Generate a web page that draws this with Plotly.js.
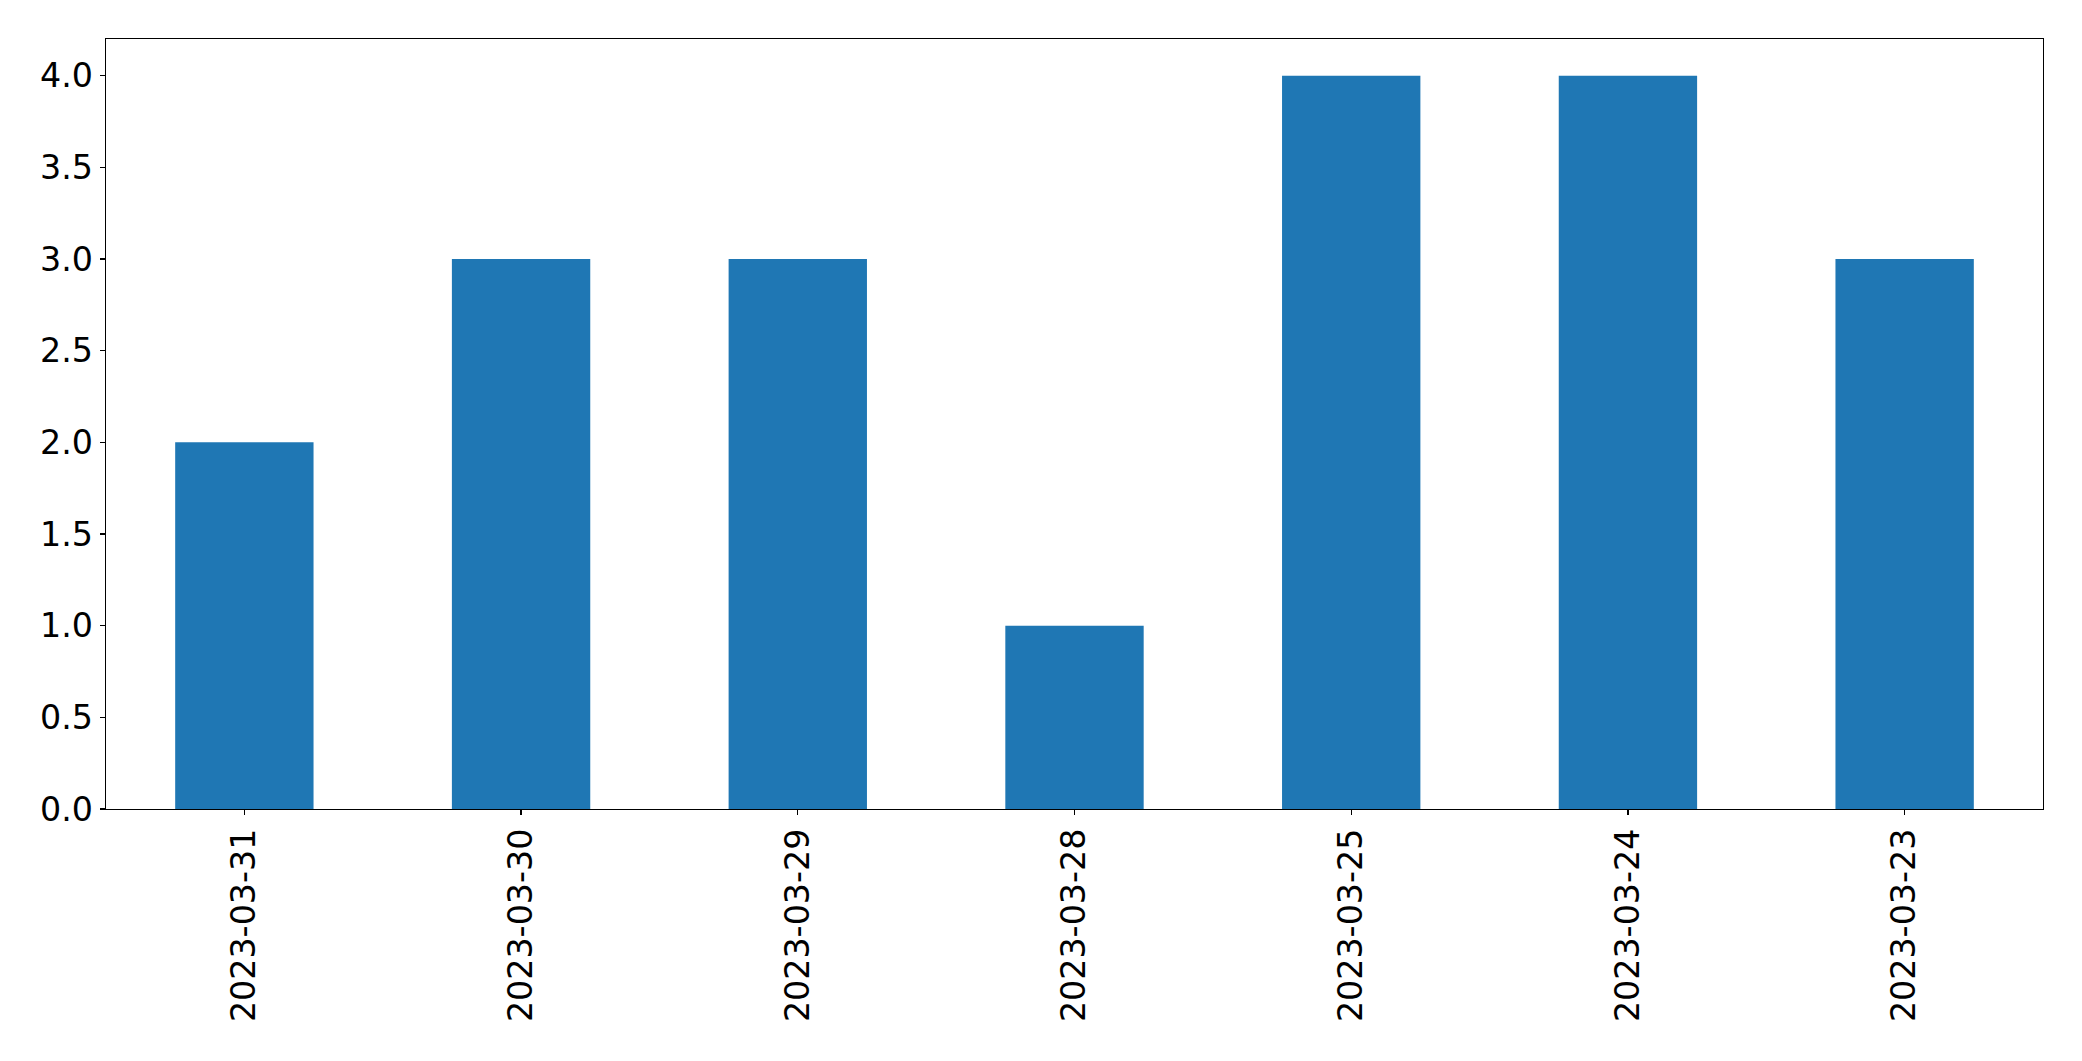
<!DOCTYPE html>
<html>
<head>
<meta charset="utf-8">
<script src="https://cdn.plot.ly/plotly-3.0.1.min.js"></script>
<style>html,body{margin:0;padding:0;background:#fff;}#chart{width:2082px;height:1061px;}</style>
</head>
<body>
<div id="chart"></div>
<script>
const dates = ["2023-03-31","2023-03-30","2023-03-29","2023-03-28","2023-03-25","2023-03-24","2023-03-23"];
const counts = [2, 3, 3, 1, 4, 4, 3];
const yTicks = [0, 0.5, 1, 1.5, 2, 2.5, 3, 3.5, 4];
const yTickLabels = ["0.0","0.5","1.0","1.5","2.0","2.5","3.0","3.5","4.0"];

const font = {family: "DejaVu Sans, sans-serif", size: 33.3, color: "#000"};

Plotly.newPlot("chart", [{
  type: "bar",
  x: dates,
  y: counts,
  width: 0.5,
  marker: {color: "#1f77b4", line: {width: 0}},
  hoverinfo: "skip"
}], {
  width: 2082,
  height: 1061,
  margin: {l: 105.5, r: 38.7, t: 39.3, b: 251.7, pad: 0},
  paper_bgcolor: "#fff",
  plot_bgcolor: "#fff",
  showlegend: false,
  font: font,
  xaxis: {
    type: "category",
    range: [-0.5, 6.5],
    tickangle: -90,
    ticks: "outside",
    ticklen: 5,
    tickwidth: 1.3,
    tickcolor: "#000",
    showline: true,
    mirror: true,
    linecolor: "#000",
    linewidth: 1.3,
    showgrid: false,
    zeroline: false,
    tickfont: font,
    ticklabelstandoff: 0
  },
  yaxis: {
    range: [0, 4.2],
    tickvals: yTicks,
    ticktext: yTickLabels,
    ticks: "outside",
    ticklen: 5,
    tickwidth: 1.3,
    tickcolor: "#000",
    showline: true,
    mirror: true,
    linecolor: "#000",
    linewidth: 1.3,
    showgrid: false,
    zeroline: false,
    tickfont: font,
    ticklabelstandoff: 0
  }
}, {displayModeBar: false, staticPlot: true});
</script>
</body>
</html>
